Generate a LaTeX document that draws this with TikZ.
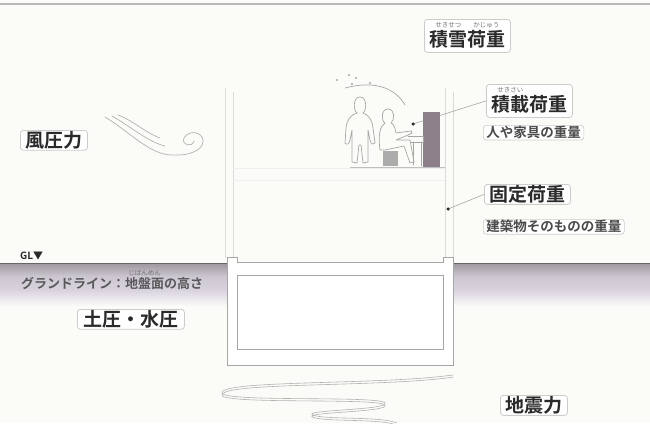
\documentclass[tikz,border=0pt]{standalone}
\usepackage{fontspec}
\setmainfont{Noto Sans CJK JP}
\newfontfamily\jpb{Noto Sans CJK JP}[BoldFont={* Bold}]
\usetikzlibrary{calc}
\definecolor{paper}{HTML}{FBFBF8}
\definecolor{wall}{HTML}{DADAD6}
\definecolor{pianoc}{HTML}{8C7F8A}
\definecolor{ink}{HTML}{2A2A2A}
\definecolor{bandtop}{HTML}{9C979C}
\definecolor{bandmid}{HTML}{D9D3DE}
% reading aid set centred above a word, taking no height of its own
\newcommand\furi[3][1.0em]{\begingroup\setbox0\hbox{#2}%
  \rlap{\hbox to \wd0{\hss\raisebox{#1}[0pt][0pt]{\mdseries\fontsize{6.5}{6.5}\selectfont\color{gray!90!black}#3}\hss}}\box0\endgroup}
\tikzset{
  lbl/.style={draw=gray!40, fill=white, rounded corners=3pt, line width=0.8pt,
    inner xsep=5pt, inner ysep=1pt, text=ink, font=\jpb\bfseries\fontsize{19}{19}\selectfont},
  rubylbl/.style={lbl, inner ysep=2pt, text height=25pt, text depth=4pt},
  sublbl/.style={draw=gray!40, fill=white, rounded corners=3pt, line width=0.7pt,
    inner xsep=3pt, inner ysep=1pt, text=ink!85, font=\jpb\bfseries\fontsize{13.5}{14}\selectfont},
  leader/.style={draw=gray!70, line width=0.6pt},
  pin/.style={circle, fill=ink, inner sep=0pt, minimum size=3.5pt},
  faint/.style={draw=wall, line width=0.8pt},
  sketch/.style={draw=gray!70, line width=0.7pt, line join=round, line cap=round},
}
\begin{document}
\begin{tikzpicture}[x=1pt, y=-1pt]
\useasboundingbox (0,0) rectangle (650,423);
\fill[paper] (0,0) rectangle (650,423);
% top rule
\draw[gray!55, line width=1.2pt] (0,4) -- (650,4);

% ground band
\shade[top color=bandtop, bottom color=bandmid, middle color=bandmid!80!bandtop] (0,263) rectangle (650,290);
\shade[top color=bandmid, bottom color=paper] (0,290) rectangle (650,306);
\draw[gray!80!black, line width=1pt] (0,263) -- (650,263);

% building walls and floors
\draw[faint] (225,88) -- (225,258) (233,92) -- (233,258);
\draw[faint] (445,88) -- (445,258) (453,92) -- (453,258);
\draw[draw=gray!12, line width=0.8pt] (233,168) -- (445,168) (233,180) -- (445,180);

% foundation
\filldraw[draw=gray!70, fill=white, line width=0.9pt]
  (227,365) -- (227,257) -- (237,257) -- (237,262) -- (443,262) -- (443,257)
  -- (453,257) -- (453,365) -- cycle;
\draw[gray!70, line width=0.9pt] (237,275) rectangle (443,349);

% wind swirl
\draw[sketch, gray!60] (105,117) .. controls (130,132) and (150,155) .. (172,155)
  .. controls (190,156) and (203,150) .. (203,141) .. controls (203,131) and (188,130) .. (184,138)
  .. controls (181,145) and (192,148) .. (194,141);
\draw[sketch, gray!60] (112,116) .. controls (130,126) and (148,142) .. (165,146);
\draw[sketch, gray!60] (118,115) .. controls (134,121) and (144,132) .. (160,138);

% music notes and melody line
\foreach \p in {(337,80),(349,75),(356,78),(352,84),(370,83)} \fill[gray!70] \p circle (1.2pt);
\draw[sketch, gray!70] (345,88) .. controls (375,80) and (395,88) .. (405,105);

% standing person
\draw[sketch] (360,97) .. controls (353,97) and (353,110) .. (357,113)
  .. controls (350,115) and (347,120) .. (346,128) -- (345,143) .. controls (347,145) and (349,145) .. (350,140)
  -- (352,130) -- (352,162) -- (357,163) -- (359,145) -- (361,145) -- (363,163) -- (368,162)
  -- (368,130) -- (370,140) .. controls (371,145) and (374,145) .. (375,143) -- (373,128)
  .. controls (372,120) and (369,115) .. (363,113) .. controls (367,110) and (367,97) .. (360,97);

% seated person
\draw[sketch] (388,109) .. controls (381,109) and (381,121) .. (385,123)
  .. controls (380,126) and (378,135) .. (380,150) -- (385,150) -- (404,146) -- (410,163) -- (414,162)
  -- (410,140) -- (396,140) -- (408,135) -- (412,133) -- (411,131) -- (396,133)
  .. controls (395,126) and (392,123) .. (391,123) .. controls (395,120) and (395,109) .. (388,109);
% stool
\fill[gray!65] (383,151) rectangle (398,166);
% piano
\fill[pianoc] (423,112) rectangle (440,167);
\draw[sketch] (408,136) -- (423,136) -- (423,142) -- (411,142) (413,142) -- (413,165) (421,142) -- (421,166);
\draw[gray!50, line width=0.8pt] (350,167) -- (445,167);

% leader points
\coordinate (liveDot) at (413,124);
\coordinate (deadDot) at (448,209);

% labels
\node[rubylbl, anchor=north west] (snow) at (424,19) {\furi{積雪}{せきせつ}\furi{荷重}{かじゅう}};
\node[rubylbl, anchor=north west] (live) at (486,84) {\furi{積載}{せきさい}荷重};
\node[sublbl, anchor=north west] (liveSub) at (483,125) {人や家具の重量};

\node[lbl, anchor=north west] (dead) at (484,184) {固定荷重};
\node[sublbl, anchor=north west] (deadSub) at (483,219) {建築物そのものの重量};

\node[lbl, anchor=north west] (wind) at (20,130) {風圧力};
\node[lbl, anchor=north west, inner xsep=6pt] (earth) at (77,309) {土圧・水圧};
\node[lbl, anchor=north west] (quake) at (500,395) {地震力};

\node[anchor=west, inner sep=0pt, text=ink, font=\jpb\bfseries\fontsize{10}{10}\selectfont] (gl) at (20,256) {GL▼};
\node[anchor=base west, inner sep=0pt, text=gray!70!black, font=\jpb\bfseries\fontsize{13}{13}\selectfont] (glText) at (21,288) {グランドライン：\furi[0.95em]{地盤面}{じばんめん}の高さ};

% leaders
\draw[leader] (liveDot) -- (live.west);
\fill[pianoc] (423,112) rectangle (440,130);
\node[pin] at (liveDot) {};
\draw[leader] (deadDot) -- (dead.west);
\node[pin] at (deadDot) {};

% seismic wave
\foreach \o in {0,2.2}{
\draw[sketch, gray!60, line width=0.6pt] (453,375+\o) .. controls (380,385+\o) and (230,380+\o) .. (222,392+\o)
  .. controls (215,403+\o) and (380,395+\o) .. (385,403+\o)
  .. controls (390,410+\o) and (300,410+\o) .. (313,415+\o)
  .. controls (325,420+\o) and (380,416+\o) .. (397,423+\o);
}
\end{tikzpicture}
\end{document}
